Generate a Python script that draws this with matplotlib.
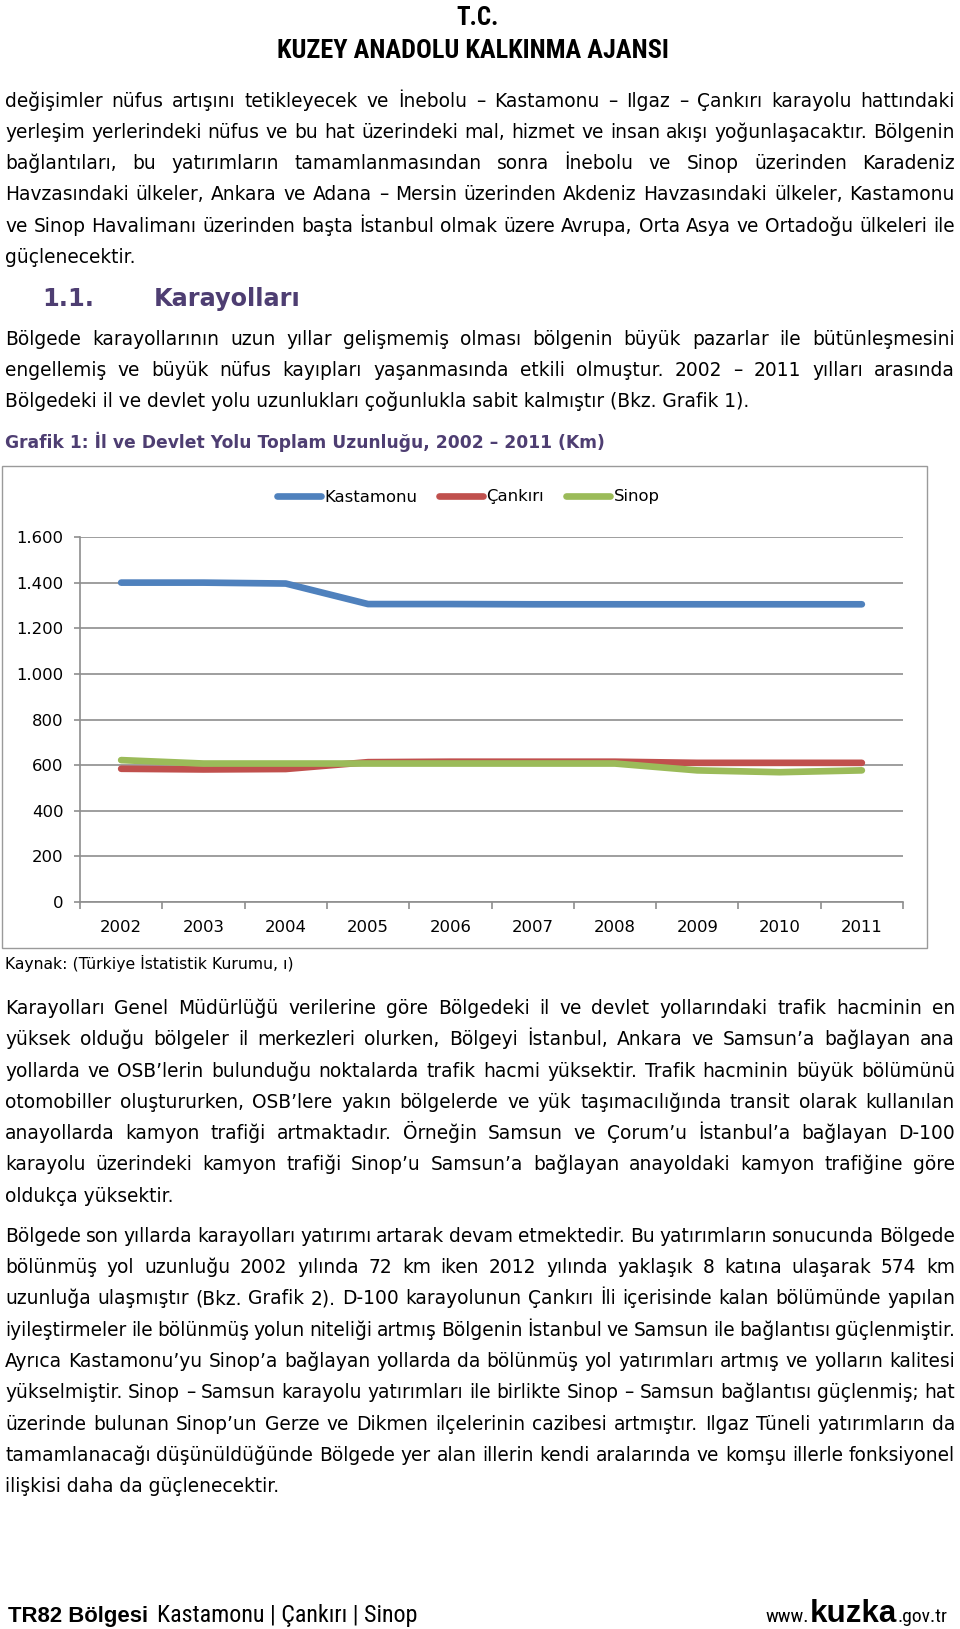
import matplotlib
matplotlib.use('Agg')
import matplotlib.pyplot as plt
from matplotlib.patches import Rectangle
from matplotlib.ticker import FixedLocator, FuncFormatter

# ---------------- data ----------------
years = ['2002', '2003', '2004', '2005', '2006', '2007', '2008', '2009', '2010', '2011']
kastamonu = [1400, 1400, 1396, 1306, 1306, 1305, 1305, 1305, 1305, 1305]
cankiri = [584, 581, 583, 613, 615, 615, 615, 610, 610, 610]
sinop = [622, 607, 607, 607, 607, 607, 607, 577, 569, 577]
series_names = ['Kastamonu', 'Çankırı', 'Sinop']
series_colors = ['#4F81BD', '#C0504D', '#9BBB59']
y_ticks = [0, 200, 400, 600, 800, 1000, 1200, 1400, 1600]

header_lines = ['T.C.', 'KUZEY ANADOLU KALKINMA AJANSI']

para1 = [
    "değişimler nüfus artışını tetikleyecek ve İnebolu – Kastamonu – Ilgaz – Çankırı karayolu hattındaki",
    "yerleşim yerlerindeki nüfus ve bu hat üzerindeki mal, hizmet ve insan akışı yoğunlaşacaktır. Bölgenin",
    "bağlantıları, bu yatırımların tamamlanmasından sonra İnebolu ve Sinop üzerinden Karadeniz",
    "Havzasındaki ülkeler, Ankara ve Adana – Mersin üzerinden Akdeniz Havzasındaki ülkeler, Kastamonu",
    "ve Sinop Havalimanı üzerinden başta İstanbul olmak üzere Avrupa, Orta Asya ve Ortadoğu ülkeleri ile",
    "güçlenecektir.",
]
heading_num = "1.1."
heading_txt = "Karayolları"
para2 = [
    "Bölgede karayollarının uzun yıllar gelişmemiş olması bölgenin büyük pazarlar ile bütünleşmesini",
    "engellemiş ve büyük nüfus kayıpları yaşanmasında etkili olmuştur. 2002 – 2011 yılları arasında",
    "Bölgedeki il ve devlet yolu uzunlukları çoğunlukla sabit kalmıştır (Bkz. Grafik 1).",
]
chart_title = "Grafik 1: İl ve Devlet Yolu Toplam Uzunluğu, 2002 – 2011 (Km)"
source_txt = "Kaynak: (Türkiye İstatistik Kurumu, ı)"
para3 = [
    "Karayolları Genel Müdürlüğü verilerine göre Bölgedeki il ve devlet yollarındaki trafik hacminin en",
    "yüksek olduğu bölgeler il merkezleri olurken, Bölgeyi İstanbul, Ankara ve Samsun’a bağlayan ana",
    "yollarda ve OSB’lerin bulunduğu noktalarda trafik hacmi yüksektir. Trafik hacminin büyük bölümünü",
    "otomobiller oluştururken, OSB’lere yakın bölgelerde ve yük taşımacılığında transit olarak kullanılan",
    "anayollarda kamyon trafiği artmaktadır. Örneğin Samsun ve Çorum’u İstanbul’a bağlayan D-100",
    "karayolu üzerindeki kamyon trafiği Sinop’u Samsun’a bağlayan anayoldaki kamyon trafiğine göre",
    "oldukça yüksektir.",
]
para4 = [
    "Bölgede son yıllarda karayolları yatırımı artarak devam etmektedir. Bu yatırımların sonucunda Bölgede",
    "bölünmüş yol uzunluğu 2002 yılında 72 km iken 2012 yılında yaklaşık 8 katına ulaşarak 574 km",
    "uzunluğa ulaşmıştır (Bkz. Grafik 2). D-100 karayolunun Çankırı İli içerisinde kalan bölümünde yapılan",
    "iyileştirmeler ile bölünmüş yolun niteliği artmış Bölgenin İstanbul ve Samsun ile bağlantısı güçlenmiştir.",
    "Ayrıca Kastamonu’yu Sinop’a bağlayan yollarda da bölünmüş yol yatırımları artmış ve yolların kalitesi",
    "yükselmiştir. Sinop – Samsun karayolu yatırımları ile birlikte Sinop – Samsun bağlantısı güçlenmiş; hat",
    "üzerinde bulunan Sinop’un Gerze ve Dikmen ilçelerinin cazibesi artmıştır. Ilgaz Tüneli yatırımların da",
    "tamamlanacağı düşünüldüğünde Bölgede yer alan illerin kendi aralarında ve komşu illerle fonksiyonel",
    "ilişkisi daha da güçlenecektir.",
]
footer_bold = "TR82 Bölgesi"
footer_rest = "Kastamonu | Çankırı | Sinop"
footer_url = ["www.", "kuzka", ".gov.tr"]

# ---------------- layout ----------------
W, H = 960, 1629
fig = plt.figure(figsize=(W / 100, H / 100), dpi=100)
fig.patch.set_facecolor('white')
renderer = fig.canvas.get_renderer()

LEFT, RIGHT = 5, 955
PURPLE = '#4E3E72'
BODY = dict(family=['DejaVu Sans'], color='black')
NARROW = ['Liberation Sans Narrow', 'Roboto Condensed', 'Liberation Sans', 'DejaVu Sans']
ARIAL = ['Liberation Sans', 'DejaVu Sans']


def fx(x):
    return x / W


def fy(y):
    return 1 - y / H


def text_width(s, size, **kw):
    t = fig.text(0, 0, s, fontsize=size, **kw)
    w = t.get_window_extent(renderer).width
    t.remove()
    return w


def fit_size(s, target, **kw):
    return 20 * target / text_width(s, 20, **kw)


# one body size for the whole page: the reference width of a short line,
# capped so that every justified line still fits with a minimal word gap
body_size = fit_size(para2[2], 782, **BODY)
MIN_GAP = 4.5
for para in (para1, para2, para3, para4):
    for line in para[:-1]:
        words = line.split(' ')
        natural = sum(text_width(w, 20, **BODY) for w in words)
        avail = (RIGHT - LEFT) - MIN_GAP * (len(words) - 1)
        body_size = min(body_size, 20 * avail / natural)


def paragraph(lines, first_center, dy):
    for i, line in enumerate(lines):
        yb = first_center + i * dy + 6
        words = line.split(' ')
        if i == len(lines) - 1:
            fig.text(fx(LEFT), fy(yb), line, fontsize=body_size, va='baseline', **BODY)
            continue
        ws = [text_width(w, body_size, **BODY) for w in words]
        gap = (RIGHT - LEFT - sum(ws)) / (len(words) - 1)
        x = LEFT
        for w, wd in zip(words, ws):
            fig.text(fx(x), fy(yb), w, fontsize=body_size, va='baseline', **BODY)
            x += wd + gap


# header
hs1 = fit_size(header_lines[1], 393, family=NARROW, weight='bold')
fig.text(fx(478), fy(25), header_lines[0], fontsize=hs1 * 0.95, family=NARROW,
         weight='bold', ha='center', va='baseline')
fig.text(fx(473), fy(58), header_lines[1], fontsize=hs1, family=NARROW,
         weight='bold', ha='center', va='baseline')

paragraph(para1, 100.8, 31.2)

hsz = fit_size(heading_txt, 147, family=['DejaVu Sans'], weight='bold')
fig.text(fx(42), fy(306), heading_num, fontsize=hsz, family=['DejaVu Sans'],
         weight='bold', color=PURPLE, va='baseline')
fig.text(fx(154), fy(306), heading_txt, fontsize=hsz, family=['DejaVu Sans'],
         weight='bold', color=PURPLE, va='baseline')

paragraph(para2, 339, 31)

tsz = fit_size(chart_title, 600, family=['DejaVu Sans'], weight='bold')
fig.text(fx(5), fy(448), chart_title, fontsize=tsz, family=['DejaVu Sans'],
         weight='bold', color=PURPLE, va='baseline')

# chart frame
fig.patches.append(Rectangle((fx(2), fy(948)), fx(925), (948 - 466) / H,
                             transform=fig.transFigure, fill=False,
                             edgecolor='#9A9A9A', linewidth=1.0))

# chart axes
ax = fig.add_axes([fx(80), fy(902), fx(903 - 80), (902 - 537) / H])
x = list(range(len(years)))
for vals, name, col in zip([kastamonu, cankiri, sinop], series_names, series_colors):
    ax.plot(x, vals, color=col, linewidth=4.8, solid_capstyle='round',
            solid_joinstyle='round', label=name)
ax.set_xlim(-0.5, len(years) - 0.5)
ax.set_ylim(0, 1600)
grid_col = '#8E8E8E'
ax.yaxis.set_major_locator(FixedLocator(y_ticks))
ax.yaxis.set_major_formatter(FuncFormatter(lambda v, p: f"{int(v):,}".replace(',', '.')))
ax.yaxis.grid(True, color=grid_col, linewidth=1.2)
ax.set_axisbelow(True)
ax.xaxis.set_major_locator(FixedLocator([i - 0.5 for i in range(len(years) + 1)]))
ax.xaxis.set_major_formatter(FuncFormatter(lambda v, p: ''))
ax.xaxis.set_minor_locator(FixedLocator(x))
ax.set_xticklabels(years, minor=True)
chart_fs = fit_size('2002', 42, **BODY)
ax.tick_params(axis='x', which='major', direction='out', length=5, color=grid_col, width=1.2)
ax.tick_params(axis='x', which='minor', length=0, pad=13, labelsize=chart_fs)
ax.tick_params(axis='y', direction='out', length=4, color=grid_col, width=1.2,
               pad=8, labelsize=chart_fs)
for lab in ax.get_xticklabels(minor=True) + ax.get_yticklabels():
    lab.set_family('DejaVu Sans')
for s in ['top', 'right']:
    ax.spines[s].set_visible(False)
for s in ['left', 'bottom']:
    ax.spines[s].set_color(grid_col)
    ax.spines[s].set_linewidth(1.2)

handles, labels = ax.get_legend_handles_labels()
fig.legend(handles, labels, loc='center', bbox_to_anchor=(fx(468), fy(497)),
           ncol=3, frameon=False, prop={'family': 'DejaVu Sans', 'size': chart_fs},
           handlelength=2.7, handletextpad=0.2, columnspacing=1.3)

ksz = fit_size(source_txt, 288, **BODY)
fig.text(fx(5), fy(969), source_txt, fontsize=ksz, va='baseline', **BODY)

paragraph(para3, 1008, 31.3)
paragraph(para4, 1236, 31.25)

# footer
fb = fit_size(footer_bold, 140, family=ARIAL, weight='bold')
fig.text(fx(8), fy(1622), footer_bold, fontsize=fb, family=ARIAL, weight='bold', va='baseline')
fr = fit_size(footer_rest, 260, family=NARROW)
fig.text(fx(157), fy(1622), footer_rest, fontsize=fr, family=NARROW, va='baseline')

u1 = fit_size(footer_url[0], 43, family=NARROW)
fig.text(fx(765), fy(1622), footer_url[0], fontsize=u1, family=NARROW, va='baseline')
u2 = fit_size(footer_url[1], 87, family=ARIAL, weight='bold')
fig.text(fx(810), fy(1622), footer_url[1], fontsize=u2, family=ARIAL, weight='bold', va='baseline')
fig.text(fx(898), fy(1622), footer_url[2], fontsize=u1, family=NARROW, va='baseline')

fig.savefig('out.png', dpi=100, facecolor='white')
